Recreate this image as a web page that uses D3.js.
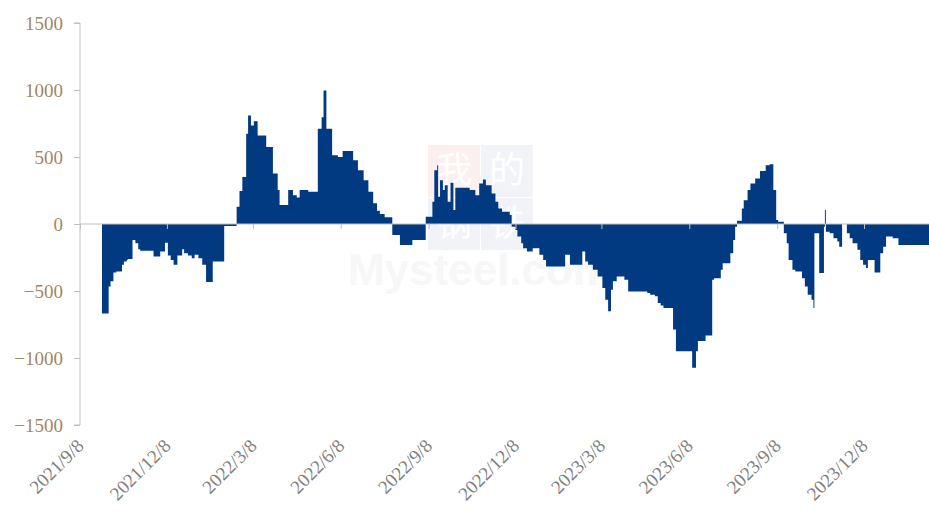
<!DOCTYPE html>
<html><head><meta charset="utf-8">
<script src="https://cdn.jsdelivr.net/npm/d3@7/dist/d3.min.js"></script>
<style>body{margin:0;background:#fff;} svg{display:block;}</style>
</head><body><svg id="c" width="929" height="515"></svg>
<script>
// step-series: date at which each level starts, and the level value
const dates = [
"2021-10-01","2021-10-08","2021-10-10","2021-10-13","2021-10-16","2021-10-22","2021-10-24","2021-10-27","2021-10-28",
"2021-11-02","2021-11-05","2021-11-08","2021-11-10","2021-11-24","2021-12-01","2021-12-06","2021-12-09","2021-12-12",
"2021-12-15","2021-12-19","2021-12-24","2021-12-26","2021-12-30","2022-01-03","2022-01-06","2022-01-10","2022-01-14",
"2022-01-18","2022-01-25","2022-02-06","2022-02-19","2022-02-22","2022-02-25","2022-03-01","2022-03-03","2022-03-06",
"2022-03-09","2022-03-13","2022-03-22","2022-03-29","2022-04-03","2022-04-05","2022-04-14","2022-04-19","2022-04-23",
"2022-04-26","2022-05-05","2022-05-15","2022-05-19","2022-05-21","2022-05-24","2022-05-30","2022-06-05","2022-06-10",
"2022-06-21","2022-06-26","2022-07-02","2022-07-07","2022-07-12","2022-07-16","2022-07-19","2022-07-24","2022-08-01",
"2022-08-09","2022-08-22","2022-09-05","2022-09-12","2022-09-14","2022-09-17","2022-09-18","2022-09-20","2022-09-23",
"2022-09-25","2022-09-28","2022-10-01","2022-10-04","2022-10-06","2022-10-21","2022-10-27","2022-10-31","2022-11-04",
"2022-11-07","2022-11-13","2022-11-17","2022-11-20","2022-11-24","2022-12-02","2022-12-04","2022-12-08","2022-12-10",
"2022-12-14","2022-12-16","2022-12-20","2022-12-26","2023-01-02","2023-01-06","2023-01-09","2023-01-29","2023-02-03",
"2023-02-16","2023-02-19","2023-02-22","2023-02-27","2023-03-04","2023-03-09","2023-03-12","2023-03-15","2023-03-18",
"2023-03-20","2023-03-24","2023-04-01","2023-04-05","2023-04-25","2023-04-28","2023-05-03","2023-05-06","2023-05-09",
"2023-05-12","2023-05-22","2023-05-25","2023-06-11","2023-06-15","2023-06-17","2023-06-25","2023-07-02","2023-07-04",
"2023-07-11","2023-07-13","2023-07-21","2023-07-24","2023-07-26","2023-07-28","2023-08-02","2023-08-04","2023-08-08",
"2023-08-11","2023-08-16","2023-08-21","2023-08-27","2023-08-31","2023-09-04","2023-09-07","2023-09-09","2023-09-15",
"2023-09-18","2023-09-20","2023-09-24","2023-09-27","2023-10-04","2023-10-07","2023-10-10","2023-10-14","2023-10-16",
"2023-10-17","2023-10-22","2023-10-27","2023-10-28","2023-10-29","2023-11-02","2023-11-06","2023-11-10","2023-11-12",
"2023-11-15","2023-11-20","2023-11-23","2023-11-26","2023-12-01","2023-12-04","2023-12-07","2023-12-10","2023-12-12",
"2023-12-19","2023-12-25","2023-12-28","2023-12-31","2024-01-07","2024-01-13","2024-02-14"
];
const values = [
-668,-466,-428,-362,-354,-305,-280,-268,-262,
-119,-143,-188,-200,-243,-206,-139,-235,-268,
-305,-235,-188,-218,-235,-255,-230,-255,-305,
-433,-280,-15,129,247,351,674,810,736,
767,661,575,377,253,141,253,215,198,
253,240,711,797,996,711,513,500,545,
476,401,327,240,154,99,74,50,-82,
-156,-119,54,166,401,438,203,327,253,
290,166,307,104,270,253,215,302,332,
290,228,166,116,92,67,-20,-45,-94,
-143,-181,-206,-181,-230,-268,-317,-230,-305,
-206,-280,-305,-342,-392,-478,-565,-652,-490,
-428,-392,-416,-503,-515,-528,-540,-590,-609,
-626,-788,-949,-1072,-949,-874,-832,-416,-404,
-342,-292,-218,-119,-20,25,116,178,253,
302,340,396,438,446,253,30,17,-69,
-143,-268,-342,-354,-404,-466,-528,-565,-626,
-69,-366,-20,104,-57,-69,-106,-131,-169,
0,-69,-106,-143,-193,-268,-305,-329,-268,
-362,-218,-169,-94,-106,-156,-156
];
const xTickLabels = ["2021/9/8","2021/12/8","2022/3/8","2022/6/8","2022/9/8","2022/12/8","2023/3/8","2023/6/8","2023/9/8","2023/12/8"];
const yTicks = [1500,1000,500,0,-500,-1000,-1500];
const xDomain = ["2021-09-08","2024-02-14"];

const parse = d3.timeParse("%Y-%m-%d");
const parseLabel = d3.timeParse("%Y/%m/%d");
const data = dates.map((d,i)=>({date:parse(d), v:values[i]}));

const svg = d3.select("#c");
const x = d3.scaleTime().domain(xDomain.map(parse)).range([80, 929]);
const y = d3.scaleLinear().domain([-1500,1500]).range([425, 23]);

// faint watermark
const wm = svg.append("g").attr("opacity",0.55);
wm.append("rect").attr("x",428).attr("y",145).attr("width",52).attr("height",52).attr("fill","#fbe3e3");
wm.append("rect").attr("x",481).attr("y",145).attr("width",52).attr("height",52).attr("fill","#e6ebf4");
wm.append("rect").attr("x",428).attr("y",198).attr("width",52).attr("height",52).attr("fill","#e6ebf4");
wm.append("rect").attr("x",481).attr("y",198).attr("width",52).attr("height",52).attr("fill","#e6ebf4");
[["我",454,183],["的",507,183],["钢",454,236],["铁",507,236]].forEach(([t,cx,cy])=>{
  wm.append("text").attr("x",cx).attr("y",cy).attr("text-anchor","middle")
    .attr("font-family","Noto Sans CJK SC").attr("font-size",36).attr("fill","#ffffff").text(t);
});
wm.append("text").attr("x",480).attr("y",285).attr("text-anchor","middle")
  .attr("font-family","Arial, Liberation Sans").attr("font-weight","bold").attr("font-size",44)
  .attr("fill","#f2f2f2").text("Mysteel.com");

// area
const area = d3.area().x(d=>x(d.date)).y0(y(0)).y1(d=>y(d.v)).curve(d3.curveStepAfter);
svg.append("path").datum(data).attr("d",area).attr("fill","#023a82");

// y axis
const yAxis = svg.append("g").attr("transform","translate(80,0)")
  .call(d3.axisLeft(y).tickValues(yTicks).tickSize(6).tickPadding(11).tickFormat(d3.format("d")));
yAxis.select(".domain").attr("stroke","#bfbfbf").attr("d","M-6,"+y(1500)+"H0V"+y(-1500)+"H-6");
yAxis.selectAll(".tick line").attr("stroke","#bfbfbf");
yAxis.selectAll(".tick text").attr("font-family","Liberation Serif, Times New Roman, serif")
  .attr("font-size",19).attr("fill","#a08767");

// zero line with ticks
const xTickDates = xTickLabels.map(parseLabel);
const xAxis = svg.append("g").attr("transform","translate(0,"+y(0)+")")
  .call(d3.axisBottom(x).tickValues(xTickDates).tickSize(5).tickFormat(""));
xAxis.select(".domain").attr("stroke","#bfbfbf").attr("d","M80,0H929");
xAxis.selectAll(".tick line").attr("stroke","#bfbfbf");

// rotated labels at bottom
svg.append("g").selectAll("text").data(xTickLabels).join("text")
  .attr("transform",(d,i)=>"translate("+(x(xTickDates[i])+5)+",447) rotate(-45)")
  .attr("text-anchor","end")
  .attr("font-family","Liberation Serif, Times New Roman, serif")
  .attr("font-size",19).attr("fill","#808080").text(d=>d);
</script></body></html>
